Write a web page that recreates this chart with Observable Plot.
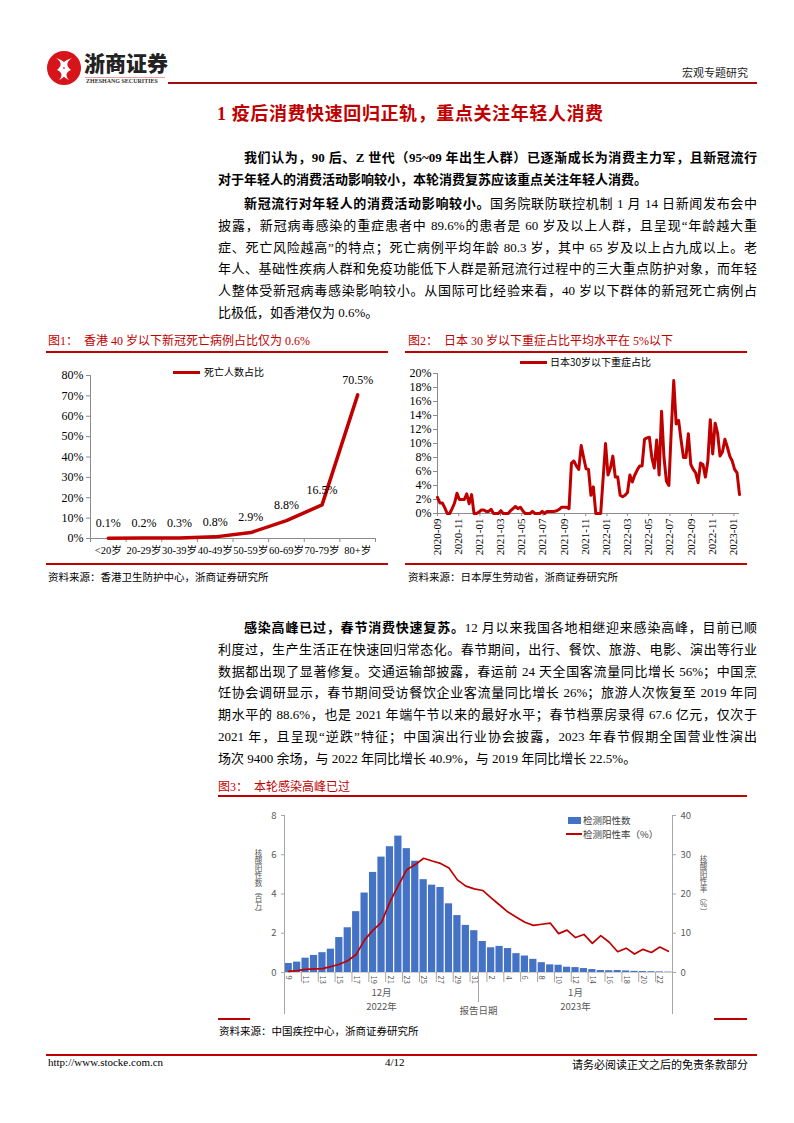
<!DOCTYPE html>
<html><head><meta charset="utf-8">
<script src="https://cdn.jsdelivr.net/npm/d3@7"></script>
<script src="https://cdn.jsdelivr.net/npm/@observablehq/plot@0.6"></script>
<style>
body{margin:0;background:#fff;}
#page{position:relative;width:794px;height:1123px;overflow:hidden;font-family:"Liberation Serif","Noto Sans CJK SC",serif;color:#000;}
.a{position:absolute;white-space:nowrap;}
.rl{position:absolute;background:#c00000;height:1.5px;}
.para{position:absolute;left:218px;width:539px;font-size:13px;line-height:21.8px;}
.para div{text-align:justify;text-align-last:justify;}
.para div.ind{text-indent:26px;}
.para div.last{text-align-last:left;}
.cap{position:absolute;font-size:12px;color:#c00000;white-space:nowrap;}
.src{position:absolute;font-size:10.5px;color:#000;white-space:nowrap;}
.leg{position:absolute;font-family:"Noto Sans CJK SC";font-size:10px;white-space:nowrap;}
.vt{position:absolute;writing-mode:vertical-rl;text-orientation:upright;font-family:"Noto Sans CJK SC";font-size:7.6px;line-height:9px;color:#595959;white-space:nowrap;}
.chart{position:absolute;}
.chart svg{overflow:visible;}
</style></head>
<body><div id="page">
<!-- header -->
<svg class="a" style="left:46px;top:50px" width="36" height="36" viewBox="0 0 36 36">
  <circle cx="18" cy="18" r="17" fill="#d7141a"/>
  <path d="M10 8 C16 12,16 16,11 20 C16 22,17 26,13 30 C20 27,21 22,17 18 C21 15,20 11,10 8Z" fill="#fff"/>
  <path d="M26 8 C20 12,20 16,25 20 C20 22,19 26,23 30 C16 27,15 22,19 18 C15 15,16 11,26 8Z" fill="#fff"/>
</svg>
<div class="a" style="left:84px;top:47px;font-family:'Noto Sans CJK SC';font-weight:900;font-size:21px;letter-spacing:0px;color:#222">浙商证券</div>
<div class="a" style="left:85px;top:77px;width:80px;height:1px;background:#e9a0a0"></div>
<div class="a" style="left:86px;top:78px;font-size:6px;font-weight:bold;color:#333">ZHESHANG SECURITIES</div>
<div class="a" style="left:168px;top:82px;width:589px;height:1.5px;background:#a50d0d"></div>
<div class="a" style="right:46px;top:64px;font-family:'Noto Sans CJK SC';font-size:11px;color:#222">宏观专题研究</div>

<div class="a" style="left:217px;top:99px;font-family:'Liberation Serif','Noto Sans CJK SC';font-weight:bold;font-size:18px;letter-spacing:0.6px;color:#c00000">1 疫后消费快速回归正轨，重点关注年轻人消费</div>

<div class="para" style="top:147px;font-weight:bold">
<div class="ind">我们认为，90 后、Z 世代（95~09 年出生人群）已逐渐成长为消费主力军，且新冠流行</div>
<div class="last">对于年轻人的消费活动影响较小，本轮消费复苏应该重点关注年轻人消费。</div>
</div>
<div class="para" style="top:193px">
<div class="ind"><b>新冠流行对年轻人的消费活动影响较小。</b>国务院联防联控机制 1 月 14 日新闻发布会中</div>
<div>披露，新冠病毒感染的重症患者中 89.6%的患者是 60 岁及以上人群，且呈现“年龄越大重</div>
<div>症、死亡风险越高”的特点；死亡病例平均年龄 80.3 岁，其中 65 岁及以上占九成以上。老</div>
<div>年人、基础性疾病人群和免疫功能低下人群是新冠流行过程中的三大重点防护对象，而年轻</div>
<div>人整体受新冠病毒感染影响较小。从国际可比经验来看，40 岁以下群体的新冠死亡病例占</div>
<div class="last">比极低，如香港仅为 0.6%。</div>
</div>

<!-- fig1 / fig2 captions -->
<div class="cap" style="left:48px;top:331px">图1：&nbsp;&nbsp;香港 40 岁以下新冠死亡病例占比仅为 0.6%</div>
<div class="rl" style="left:46px;top:351px;width:342px"></div>
<div class="cap" style="left:408px;top:331px">图2：&nbsp;&nbsp;日本 30 岁以下重症占比平均水平在 5%以下</div>
<div class="rl" style="left:405px;top:351px;width:342px"></div>
<div id="fig1" class="chart" style="left:40px;top:360px"></div>
<div id="fig2" class="chart" style="left:400px;top:360px"></div>
<div class="a" style="left:173px;top:370.5px;width:27px;height:3.5px;background:#c00000"></div>
<div class="leg" style="left:204px;top:364px">死亡人数占比</div>
<div class="a" style="left:520px;top:360.5px;width:27px;height:3.5px;background:#c00000"></div>
<div class="leg" style="left:550px;top:354px">日本30岁以下重症占比</div>
<div class="rl" style="left:46px;top:563px;width:342px"></div>
<div class="rl" style="left:405px;top:563px;width:342px"></div>
<div class="src" style="left:48px;top:569px">资料来源：香港卫生防护中心，浙商证券研究所</div>
<div class="src" style="left:408px;top:569px">资料来源：日本厚生劳动省，浙商证券研究所</div>

<div class="para" style="top:617px">
<div class="ind"><b>感染高峰已过，春节消费快速复苏。</b>12 月以来我国各地相继迎来感染高峰，目前已顺</div>
<div>利度过，生产生活正在快速回归常态化。春节期间，出行、餐饮、旅游、电影、演出等行业</div>
<div>数据都出现了显著修复。交通运输部披露，春运前 24 天全国客流量同比增长 56%；中国烹</div>
<div>饪协会调研显示，春节期间受访餐饮企业客流量同比增长 26%；旅游人次恢复至 2019 年同</div>
<div>期水平的 88.6%，也是 2021 年端午节以来的最好水平；春节档票房录得 67.6 亿元，仅次于</div>
<div>2021 年，且呈现“逆跌”特征；中国演出行业协会披露，2023 年春节假期全国营业性演出</div>
<div class="last">场次 9400 余场，与 2022 年同比增长 40.9%，与 2019 年同比增长 22.5%。</div>
</div>

<div class="cap" style="left:218px;top:777px">图3：&nbsp;&nbsp;本轮感染高峰已过</div>
<div class="rl" style="left:218px;top:795px;width:529px"></div>
<div id="fig3" class="chart" style="left:230px;top:800px"></div>
<div class="vt" id="lt" style="left:254px;top:849px"></div>
<div class="vt" id="rt" style="left:699px;top:855px"></div>
<div class="a" style="left:568px;top:817px;width:13px;height:7px;background:#4472c4"></div>
<div class="leg" style="left:583px;top:813px;font-size:9.5px;color:#404040">检测阳性数</div>
<div class="a" style="left:566px;top:833px;width:16px;height:1.8px;background:#c00000"></div>
<div class="leg" style="left:583px;top:827px;font-size:9.5px;color:#404040">检测阳性率（%）</div>
<div class="rl" style="left:218px;top:1018px;width:32px"></div>
<div class="rl" style="left:714px;top:1018px;width:33px"></div>
<div class="src" style="left:219px;top:1023px">资料来源：中国疾控中心，浙商证券研究所</div>

<!-- footer -->
<div class="a" style="left:46px;top:1054px;width:711px;height:1.5px;background:#c00000"></div>
<div class="a" style="left:48px;top:1056px;font-size:11px">http://www.stocke.com.cn</div>
<div class="a" style="left:385px;top:1056px;font-size:11px">4/12</div>
<div class="a" style="right:46px;top:1056px;font-size:11px;font-family:'Noto Sans CJK SC'">请务必阅读正文之后的免责条款部分</div>
</div>

<script>
// ---------- Figure 1 data ----------
const ageGroups = ["<20岁","20-29岁","30-39岁","40-49岁","50-59岁","60-69岁","70-79岁","80+岁"];
const deathShare = [0.1, 0.2, 0.3, 0.8, 2.9, 8.8, 16.5, 70.5];
const fig1Ticks = [0, 10, 20, 30, 40, 50, 60, 70, 80];

// ---------- Figure 2 data (weekly, from 2020-09-01) ----------
const jpStart = "2020-09-01";
const jpSevereShare = [
 2.3,1.5,1.5,0.8,0,0,0.7,1.5,2.9,2.0,
 2.0,2.0,2.8,1.4,2.7,0,0,0.2,0.5,0.5,
 0.3,0.3,0.6,0,0,0,0.4,0,0,0,
 0.4,0.7,1.0,0.7,0.9,0.4,0,0,0,0.3,
 0,0,0,0.3,0,0.3,0.3,0.3,0.3,0.4,
 0.6,0.9,0.9,0.9,0.7,7.2,7.5,6.8,6.3,9.7,
 8.0,6.4,6.3,2.6,3.8,0,0,0,5.0,10.0,
 5.5,6.5,8.2,5.2,5.2,2.6,2.4,2.6,3.0,5.5,
 4.5,5.5,6.2,6.8,6.8,10.6,10.8,10.9,8.0,6.5,
 10.5,5.5,14.6,8.0,4.6,4.0,12.0,19.0,12.8,13.3,
 10.5,8.0,8.0,11.4,7.0,6.3,5.8,4.4,7.2,7.0,
 5.2,7.5,13.4,8.5,12.9,11.5,8.2,8.8,10.6,9.5,
 8.2,7.5,6.3,5.8,2.7];
const jpTickLabels = ["2020-09","2020-11","2021-01","2021-03","2021-05","2021-07","2021-09","2021-11","2022-01","2022-03","2022-05","2022-07","2022-09","2022-11","2023-01"];
const fig2Ticks = [0,2,4,6,8,10,12,14,16,18,20];

// ---------- Figure 3 data (daily, 2022-12-09 .. 2023-01-23) ----------
const cnStart = "2022-12-09", cnEnd = "2023-01-24";
const positiveCount = [0.46,0.53,0.73,0.87,1.01,1.19,1.78,2.28,3.10,4.05,5.10,5.88,6.41,6.95,6.31,5.67,4.73,4.45,4.33,3.50,2.90,2.40,2.13,
  1.58,1.26,1.33,1.22,0.96,0.84,0.67,0.50,0.39,0.37,0.27,0.25,0.20,0.15,0.10,0.09,0.10,0.08,0.06,0.05,0.04,0.03,0.02];
const positiveRate = [0.3,0.5,0.8,0.9,1.0,1.5,2.1,3.0,4.6,8.3,10.8,12.8,18.0,22.2,26.2,27.5,29.1,28.4,27.8,26.6,23.6,22.0,21.3,
  20.9,19.0,17.2,15.4,14.1,12.8,12.0,12.3,12.6,9.9,10.8,8.9,9.7,7.4,9.4,7.7,5.3,6.2,4.7,5.9,5.1,6.5,5.4];
const leftTicks = [0,2,4,6,8];
const rateToCount = 5; // right axis 0-40 vs left axis 0-8
const leftTitle = "核酸阳性数（百万）";
const rightTitle = "核酸阳性率（%）";
const axisTitleX = "报告日期";

document.getElementById("lt").textContent = leftTitle;
document.getElementById("rt").textContent = rightTitle;

const AX = "#8c8c8c";

// ---------- Figure 1 ----------
{
  const rows = ageGroups.map((g, i) => ({g, i, v: deathShare[i]}));
  const p = Plot.plot({
    width: 345, height: 205, marginLeft: 50, marginRight: 10, marginTop: 15, marginBottom: 27,
    style: {fontFamily: "'Liberation Serif','Noto Sans CJK SC'", fontSize: "12px", color: "#000", background: "transparent", overflow: "visible"},
    x: {domain: [0, ageGroups.length], axis: null},
    y: {domain: [0, 80], axis: null},
    marks: [
      Plot.ruleX([0], {stroke: AX}),
      Plot.ruleY([0], {stroke: AX}),
      Plot.axisY({ticks: fig1Ticks, tickFormat: d => d + "%", tickSize: 4, tickPadding: 3, stroke: AX, label: null}),
      Plot.axisX({ticks: d3.range(0, ageGroups.length + 1), tickSize: 4, tickFormat: () => "", stroke: AX, label: null}),
      Plot.axisX({ticks: rows.map(d => d.i + 0.5), tickSize: 0, tickPadding: 8, fontSize: 10.5,
        tickFormat: x => ageGroups[Math.floor(x)], label: null}),
      Plot.line(rows, {x: d => d.i + 0.5, y: "v", stroke: "#c00000", strokeWidth: 3.5}),
      Plot.text(rows, {x: d => d.i + 0.5, y: "v", text: d => d.v.toFixed(1) + "%", dy: -15})
    ]
  });
  document.getElementById("fig1").append(p);
}

// ---------- Figure 2 ----------
{
  const start = new Date(jpStart);
  const rows = jpSevereShare.map((v, i) => ({date: d3.utcWeek.offset(start, i), v}));
  const tickDates = jpTickLabels.map(s => new Date(s + "-01"));
  const p = Plot.plot({
    width: 355, height: 200, marginLeft: 37, marginRight: 16, marginTop: 13, marginBottom: 47,
    style: {fontFamily: "'Liberation Serif','Noto Sans CJK SC'", fontSize: "12px", color: "#000", background: "transparent", overflow: "visible"},
    x: {type: "utc", domain: [rows[0].date, rows[rows.length - 1].date], axis: null},
    y: {domain: [0, 20], axis: null},
    marks: [
      Plot.ruleX([rows[0].date], {stroke: AX}),
      Plot.ruleY([0], {stroke: AX}),
      Plot.axisY({ticks: fig2Ticks, tickFormat: d => d + "%", tickSize: 4, tickPadding: 2, stroke: AX, label: null}),
      Plot.axisX({ticks: tickDates, tickFormat: d3.utcFormat("%Y-%m"), tickRotate: -90, tickSize: 3, tickPadding: 2, stroke: AX, fontSize: 11, label: null}),
      Plot.line(rows, {x: "date", y: "v", stroke: "#c00000", strokeWidth: 3})
    ]
  });
  document.getElementById("fig2").append(p);
}

// ---------- Figure 3 ----------
{
  const days = d3.utcDay.range(new Date(cnStart), new Date(cnEnd));
  const rows = days.map((date, i) => ({
    i, date, day: String(date.getUTCDate()),
    month: (date.getUTCMonth() + 1) + "月", year: date.getUTCFullYear() + "年",
    count: positiveCount[i], rate: positiveRate[i]
  }));
  const groups = d3.groups(rows, d => d.month).map(([month, ds]) => ({
    month, year: ds[0].year, center: d3.mean(ds, d => d.i + 0.5), start: ds[0].i
  }));
  const n = rows.length;
  const GR = "#595959";
  const p = Plot.plot({
    width: 480, height: 230, marginLeft: 54, marginRight: 38, marginTop: 15, marginBottom: 58,
    style: {fontFamily: "'Noto Sans CJK SC'", fontSize: "9.5px", color: GR, background: "transparent", overflow: "visible"},
    x: {domain: [0, n], axis: null},
    y: {domain: [0, 8], axis: null},
    marks: [
      Plot.ruleY([0], {stroke: "#d0d0d0"}),
      Plot.rectY(rows, {x1: d => d.i, x2: d => d.i + 1, y: "count", fill: "#4472c4", insetLeft: 0.6, insetRight: 0.6}),
      Plot.line(rows, {x: d => d.i + 0.5, y: d => d.rate / rateToCount, stroke: "#c00000", strokeWidth: 1.7}),
      Plot.ruleX([0, n], {stroke: "#a6a6a6", insetBottom: -42}),
      Plot.axisY({ticks: leftTicks, tickSize: 3, tickPadding: 5, stroke: "#a6a6a6", label: null}),
      Plot.axisY({anchor: "right", ticks: leftTicks, tickFormat: d => d * rateToCount, tickSize: 3, tickPadding: 5, stroke: "#a6a6a6", label: null}),
      Plot.axisX({ticks: d3.range(2, n, 2), tickSize: 10, tickFormat: () => "", stroke: "#a6a6a6", label: null}),
      Plot.axisX({ticks: rows.filter(d => d.i % 2 === 0).map(d => d.i + 0.5), tickSize: 0, tickPadding: 3, tickRotate: 90,
        tickFormat: x => rows[Math.floor(x)].day, fontSize: 7.5, label: null}),
      Plot.ruleX(groups.slice(1), {x: "start", y1: 0, y2: 0, insetBottom: -30, stroke: "#a6a6a6"}),
      Plot.text(groups, {x: "center", frameAnchor: "bottom", text: "month", dy: 23, fontSize: 9.5}),
      Plot.text(groups, {x: "center", frameAnchor: "bottom", text: "year", dy: 37, fontSize: 9.5}),
      Plot.text(groups.slice(1), {x: "start", frameAnchor: "bottom", text: () => axisTitleX, dy: 41, fontSize: 9.5})
    ]
  });
  document.getElementById("fig3").append(p);
}
</script>
</body></html>
